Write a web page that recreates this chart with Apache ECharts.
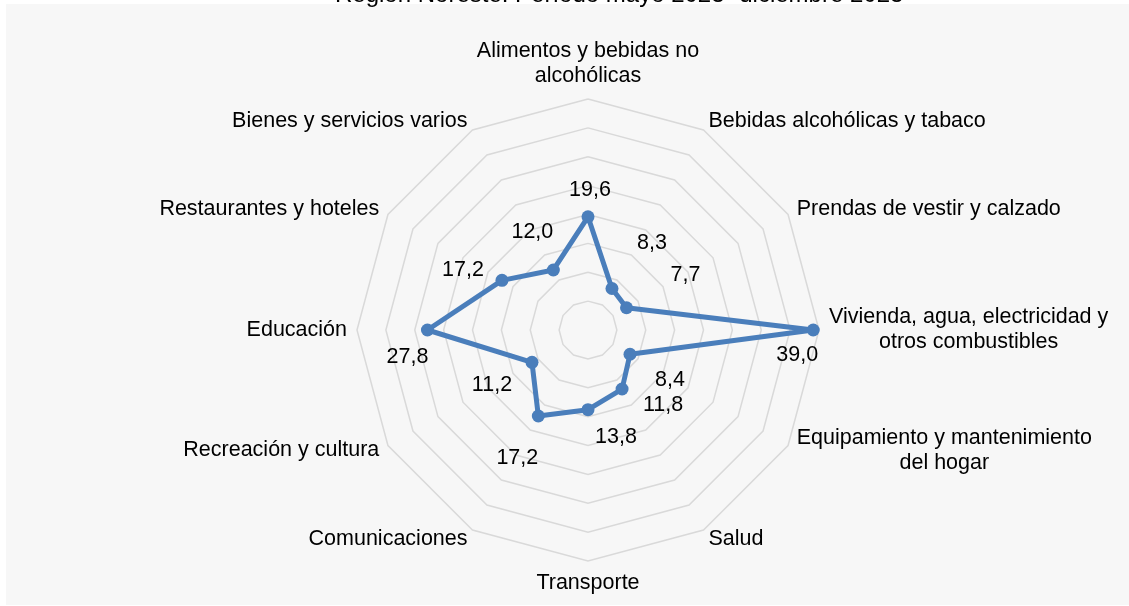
<!DOCTYPE html>
<html><head><meta charset="utf-8">
<script src="https://cdn.jsdelivr.net/npm/echarts@6/dist/echarts.min.js"></script>
<style>
html,body{margin:0;padding:0;background:#fff;}
#wrap{position:relative;width:1129px;height:606px;overflow:hidden;}
#bg{position:absolute;left:6px;top:4px;right:0;bottom:1px;background:#f7f7f7;}
#chart{position:absolute;left:0;top:0;width:1129px;height:606px;}
</style></head><body>
<div id="wrap"><div id="bg"></div><div id="chart"></div></div>
<script>
const titleText = 'Región Noreste: Período mayo 2023- diciembre 2023';
const categories = [
  'Alimentos y bebidas no\nalcohólicas',
  'Bebidas alcohólicas y tabaco',
  'Prendas de vestir y calzado',
  'Vivienda, agua, electricidad y\notros combustibles',
  'Equipamiento y mantenimiento\ndel hogar',
  'Salud',
  'Transporte',
  'Comunicaciones',
  'Recreación y cultura',
  'Educación',
  'Restaurantes y hoteles',
  'Bienes y servicios varios'
];
const values = [19.6, 8.3, 7.7, 39.0, 8.4, 11.8, 13.8, 17.2, 11.2, 27.8, 17.2, 12.0];
const axisMax = 40;
const ringCount = 8;
// label layout offsets (px) relative to each point
const labelOffsets = [[2,-27],[40,-45],[59,-33],[-16,25],[40,26],[41,16],[28,27],[-21,42],[-40,23],[-20,27],[-39,-10],[-21,-38]];

const FONT = '"Liberation Sans", Arial, Helvetica, sans-serif';
const FS = 21.5;
const BLUE = '#4a7ebb';
const CENTER = [588, 330];
const RADIUS = 231;

// ECharts radar runs counter-clockwise; the reference runs clockwise from the top.
function ccw(arr) { return [arr[0]].concat(arr.slice(1).reverse()); }

const chart = echarts.init(document.getElementById('chart'), null, {renderer: 'canvas'});
chart.setOption({
  backgroundColor: 'transparent',
  animation: false,
  title: {
    text: titleText, left: 335, top: -17, padding: 0,
    textStyle: {fontSize: 24, fontWeight: 'normal', color: '#000', fontFamily: FONT}
  },
  radar: {
    center: CENTER, radius: RADIUS, startAngle: 90, splitNumber: ringCount, shape: 'polygon',
    nameGap: 10,
    indicator: ccw(categories).map(n => ({name: n, min: 0, max: axisMax})),
    axisName: {
      color: '#000', fontSize: FS, fontFamily: FONT, lineHeight: 25,
      formatter: v => v.split('\n').map(l => '{c|' + l + '}').join('\n'),
      rich: {c: {align: 'center', fontSize: FS, lineHeight: 25, color: '#000', fontFamily: FONT}}
    },
    axisLine: {show: false},
    axisTick: {show: false},
    axisLabel: {show: false},
    splitLine: {lineStyle: {color: '#d9d9d9', width: 1.5}},
    splitArea: {show: false}
  },
  polar: {center: CENTER, radius: RADIUS},
  angleAxis: {type: 'category', data: categories, startAngle: 90, clockwise: true, boundaryGap: false, show: false},
  radiusAxis: {type: 'value', min: 0, max: axisMax, show: false},
  series: [
    {
      type: 'radar',
      symbol: 'circle', symbolSize: 13,
      lineStyle: {color: BLUE, width: 5},
      itemStyle: {color: BLUE},
      label: {show: false},
      data: [{value: ccw(values)}],
      z: 2
    },
    {
      type: 'scatter', coordinateSystem: 'polar', silent: true,
      symbolSize: 1, itemStyle: {color: 'rgba(0,0,0,0)'},
      label: {
        show: true, position: 'inside', color: '#000', opacity: 1, textBorderWidth: 0,
        fontSize: FS, fontFamily: FONT,
        formatter: p => p.value[0].toFixed(1).replace('.', ',')
      },
      data: values.map((v, i) => ({value: [v, i], label: {offset: labelOffsets[i], color: '#000'}})),
      z: 3
    }
  ]
});
</script>
</body></html>
